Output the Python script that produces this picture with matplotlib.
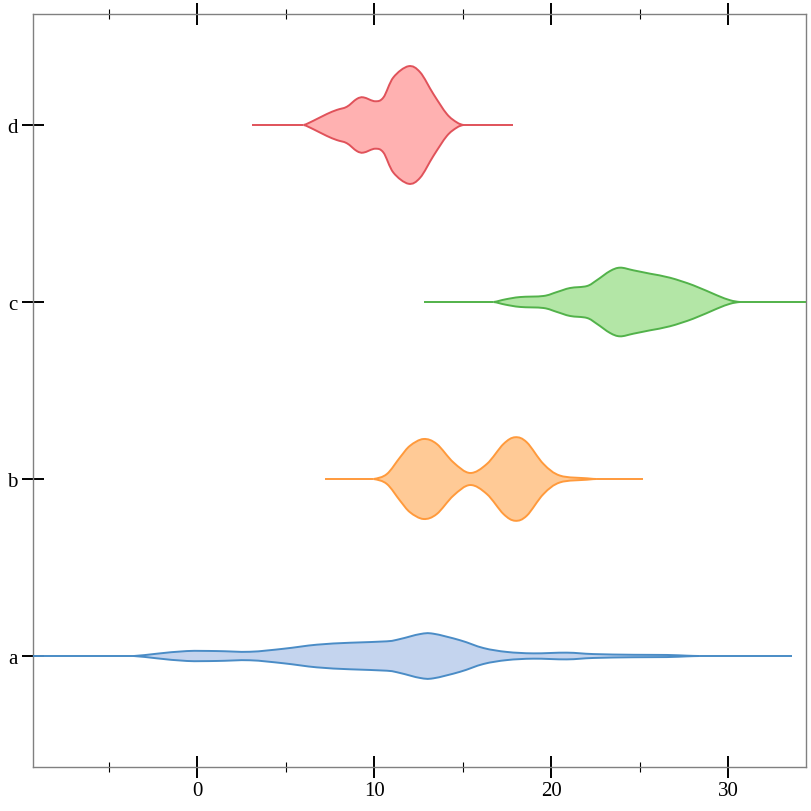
import numpy as np
import matplotlib
matplotlib.use("Agg")
from matplotlib import pyplot as plt
from matplotlib.path import Path
from matplotlib.patches import PathPatch

# violin profiles: x position and half-width (in category units)
cats = ["a", "b", "c", "d"]

a_x = [-3.58, -2.28, -0.58, 1.11, 2.99, 4.88, 6.76, 8.64, 10.72, 11.47, 12.60, 13.35, 14.86, 16.18, 17.50, 19.00, 20.89, 22.39, 24.65, 26.54, 27.66, 28.40]
a_w = [0.0, 0.013, 0.028, 0.028, 0.024, 0.041, 0.064, 0.075, 0.083, 0.096, 0.124, 0.126, 0.089, 0.045, 0.023, 0.015, 0.019, 0.011, 0.007, 0.006, 0.002, 0.0]
a_line = [-12.0, 33.6]

b_x = [9.96, 10.72, 11.47, 12.03, 12.79, 13.54, 14.48, 15.42, 16.37, 17.31, 17.97, 18.63, 19.57, 20.51, 22.02, 22.58]
b_w = [0.0, 0.028, 0.123, 0.188, 0.226, 0.198, 0.094, 0.034, 0.085, 0.198, 0.236, 0.207, 0.085, 0.019, 0.004, 0.0]
b_line = [7.23, 25.2]

c_x = [16.74, 17.42, 18.25, 19.57, 20.32, 21.07, 22.02, 22.58, 23.33, 23.90, 24.65, 25.59, 26.72, 28.04, 29.36, 30.11, 30.68]
c_w = [0.0, 0.015, 0.028, 0.034, 0.056, 0.079, 0.090, 0.123, 0.175, 0.194, 0.179, 0.160, 0.137, 0.094, 0.038, 0.010, 0.0]
c_line = [12.82, 37.0]

d_x = [6.01, 6.57, 7.33, 7.89, 8.46, 9.02, 9.40, 10.06, 10.53, 11.09, 11.94, 12.60, 13.35, 14.11, 14.67, 15.05]
d_w = [0.0, 0.024, 0.062, 0.085, 0.103, 0.147, 0.156, 0.134, 0.156, 0.269, 0.332, 0.298, 0.175, 0.062, 0.015, 0.0]
d_line = [3.09, 17.85]

fills = ["#c4d4ee", "#ffca96", "#b3e6a6", "#ffb1b1"]
strokes = ["#4a8cc6", "#ff9a3c", "#52b24a", "#e0525a"]

profiles = [(a_x, a_w, a_line), (b_x, b_w, b_line), (c_x, c_w, c_line), (d_x, d_w, d_line)]


def smooth_path(pts):
    # catmull-rom through the points as bezier segments, flat tangent at both ends
    pts = np.asarray(pts, dtype=float)
    n = len(pts)
    first = pts[0] - [pts[1, 0] - pts[0, 0], 0]
    last = pts[-1] + [pts[-1, 0] - pts[-2, 0], 0]
    verts = [pts[0]]
    codes = [Path.MOVETO]
    for k in range(n - 1):
        p0 = pts[k - 1] if k > 0 else first
        p1, p2 = pts[k], pts[k + 1]
        p3 = pts[k + 2] if k + 2 < n else last
        verts += [p1 + (p2 - p0) / 6, p2 - (p3 - p1) / 6, p2]
        codes += [Path.CURVE4] * 3
    return Path(verts, codes)


fig = plt.figure(figsize=(8.12, 8.12), dpi=100)
ax = fig.add_axes([33 / 812, 44 / 812, 773 / 812, 753 / 812])

for i, (xs, ws, ln) in enumerate(profiles):
    xs = np.array(xs)
    ws = np.array(ws)
    for sign in (1, -1):
        half = smooth_path(np.column_stack([xs, i + sign * ws]))
        ax.add_patch(PathPatch(half, fc=fills[i], ec="none", zorder=2))
        ax.add_patch(PathPatch(half, fc="none", ec=strokes[i], lw=1.4, zorder=3))
    # tails along the centre
    ax.plot([ln[0], xs[0]], [i, i], color=strokes[i], lw=1.4, zorder=3, solid_capstyle="butt")
    ax.plot([xs[-1], ln[1]], [i, i], color=strokes[i], lw=1.4, zorder=3, solid_capstyle="butt")

ax.set_xlim(-9.27, 34.4)
ax.set_ylim(-0.627, 3.627)

ax.set_xticks([0, 10, 20, 30])
ax.set_xticks([-5, 5, 15, 25], minor=True)
ax.set_yticks(range(len(cats)))
ax.set_yticklabels(cats)

ax.tick_params(axis="x", which="major", direction="inout", length=15.8, width=1.4,
               top=True, bottom=True, labeltop=False, labelsize=15, pad=2)
ax.tick_params(axis="x", which="minor", direction="inout", length=7.2, width=0.8,
               top=True, bottom=True)
ax.tick_params(axis="y", which="major", direction="inout", length=15.8, width=1.4,
               left=True, right=False, labelsize=15, pad=3)
for lab in ax.get_xticklabels() + ax.get_yticklabels():
    lab.set_family("Liberation Serif")

for s in ax.spines.values():
    s.set_color("#808080")
    s.set_linewidth(1.0)

plt.savefig("out.png", dpi=100)
